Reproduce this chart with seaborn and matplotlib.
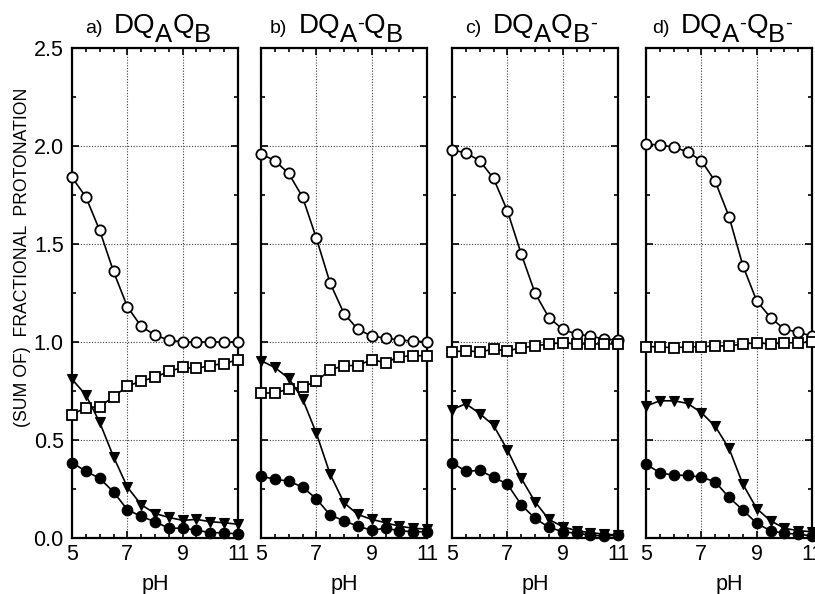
import matplotlib
matplotlib.use("Agg")
import matplotlib.pyplot as plt
import seaborn as sns
from matplotlib.ticker import FixedLocator, MultipleLocator

# pH grid (0.5 steps)
ph = [5, 5.5, 6, 6.5, 7, 7.5, 8, 8.5, 9, 9.5, 10, 10.5, 11]

# a) DQAQB
a_open = [1.84, 1.74, 1.57, 1.36, 1.18, 1.08, 1.035, 1.01, 1.0, 1.0, 1.0, 1.0, 1.0]
a_square = [0.63, 0.665, 0.67, 0.72, 0.775, 0.80, 0.82, 0.85, 0.87, 0.865, 0.88, 0.89, 0.91]
a_tri = [0.81, 0.73, 0.59, 0.415, 0.26, 0.17, 0.125, 0.105, 0.09, 0.095, 0.083, 0.078, 0.07]
a_filled = [0.385, 0.34, 0.305, 0.235, 0.145, 0.11, 0.083, 0.05, 0.05, 0.04, 0.027, 0.027, 0.02]

# b) DQA-QB
b_open = [1.96, 1.925, 1.86, 1.74, 1.53, 1.30, 1.145, 1.065, 1.03, 1.02, 1.01, 1.005, 1.0]
b_square = [0.74, 0.74, 0.76, 0.77, 0.80, 0.857, 0.88, 0.88, 0.91, 0.895, 0.925, 0.93, 0.93]
b_tri = [0.905, 0.87, 0.815, 0.71, 0.535, 0.325, 0.18, 0.12, 0.095, 0.078, 0.06, 0.05, 0.045]
b_filled = [0.315, 0.30, 0.29, 0.26, 0.20, 0.117, 0.088, 0.06, 0.04, 0.05, 0.037, 0.032, 0.032]

# c) DQAQB-
c_open = [1.98, 1.965, 1.925, 1.835, 1.67, 1.45, 1.25, 1.125, 1.065, 1.04, 1.03, 1.015, 1.01]
c_square = [0.95, 0.955, 0.95, 0.963, 0.955, 0.97, 0.98, 0.99, 0.996, 0.99, 0.99, 0.99, 0.99]
c_tri = [0.655, 0.685, 0.635, 0.575, 0.45, 0.305, 0.185, 0.095, 0.058, 0.037, 0.027, 0.02, 0.015]
c_filled = [0.385, 0.34, 0.345, 0.31, 0.275, 0.17, 0.10, 0.055, 0.032, 0.024, 0.015, 0.01, 0.015]

# d) DQA-QB-
d_open = [2.01, 2.005, 1.995, 1.97, 1.925, 1.82, 1.64, 1.39, 1.21, 1.125, 1.065, 1.05, 1.03]
d_square = [0.976, 0.976, 0.97, 0.976, 0.976, 0.98, 0.98, 0.99, 0.996, 0.99, 0.996, 0.996, 1.0]
d_tri = [0.673, 0.70, 0.70, 0.687, 0.64, 0.57, 0.457, 0.275, 0.15, 0.088, 0.05, 0.037, 0.032]
d_filled = [0.377, 0.333, 0.32, 0.32, 0.31, 0.287, 0.207, 0.143, 0.075, 0.037, 0.024, 0.02, 0.01]

x_ticks = [5, 7, 9, 11]
y_ticks = [0, 0.5, 1.0, 1.5, 2.0, 2.5]
y_ticklabels = ["0.0", "0.5", "1.0", "1.5", "2.0", "2.5"]

panel_labels = ["a)", "b)", "c)", "d)"]
panel_titles = [
    [("DQ", 0), ("A", -6.5), ("Q", 0), ("B", -6.5)],
    [("DQ", 0), ("A", -6.5), ("-", 3), ("Q", 0), ("B", -6.5)],
    [("DQ", 0), ("A", -6.5), ("Q", 0), ("B", -6.5), ("-", 3)],
    [("DQ", 0), ("A", -6.5), ("-", 3), ("Q", 0), ("B", -6.5), ("-", 3)],
]
panel_data = [
    (a_open, a_square, a_tri, a_filled),
    (b_open, b_square, b_tri, b_filled),
    (c_open, c_square, c_tri, c_filled),
    (d_open, d_square, d_tri, d_filled),
]

sns.set_style("ticks")
plt.rcParams['font.family'] = ['Liberation Sans', 'DejaVu Sans']
plt.rcParams['text.color'] = 'black'
plt.rcParams['axes.labelcolor'] = 'black'
plt.rcParams['xtick.color'] = 'black'
plt.rcParams['ytick.color'] = 'black'

fig = plt.figure(figsize=(8.15, 5.94), dpi=100)
W, H = 815, 594
lefts = [72, 261, 452, 646]
label_x = [0.078, 0.054, 0.078, 0.036]
ax_w, top, bottom = 166, 48, 538

base_y = 1 + (top - 33) / (bottom - top)

for i, (open_c, square, tri, filled) in enumerate(panel_data):
    ax = fig.add_axes([lefts[i] / W, (H - bottom) / H, ax_w / W, (bottom - top) / H])
    ax.set_axisbelow(True)

    style = dict(ax=ax, color="black", linewidth=1.2, clip_on=False, zorder=3)
    sns.lineplot(x=ph, y=open_c, marker="o", markersize=7.4, markerfacecolor="white",
                 markeredgecolor="black", markeredgewidth=1.3, **style)
    sns.lineplot(x=ph, y=square, marker="s", markersize=7.4, markerfacecolor="white",
                 markeredgecolor="black", markeredgewidth=1.3, **style)
    sns.lineplot(x=ph, y=tri, marker="v", markersize=7.8, markerfacecolor="black",
                 markeredgecolor="black", markeredgewidth=0.8, **style)
    sns.lineplot(x=ph, y=filled, marker="o", markersize=7.6, markerfacecolor="black",
                 markeredgecolor="black", markeredgewidth=0.8, **style)

    ax.set_xlim(5, 11)
    ax.set_ylim(0, 2.5)
    ax.xaxis.set_major_locator(FixedLocator(x_ticks))
    ax.xaxis.set_minor_locator(MultipleLocator(0.5))
    ax.yaxis.set_major_locator(FixedLocator(y_ticks))
    ax.yaxis.set_minor_locator(MultipleLocator(0.25))
    ax.grid(True, which="major", color="0.25", linestyle=(0, (1, 1.5)), linewidth=0.8)
    ax.tick_params(which="both", direction="in", top=True, right=True, width=1.2,
                   labelsize=15.5, color="black", labelcolor="black")
    ax.tick_params(which="major", length=5, pad=4)
    ax.tick_params(which="minor", length=3)
    ax.tick_params(axis="y", pad=6)
    for s in ax.spines.values():
        s.set_linewidth(1.6)
        s.set_color("black")
    ax.set_xlabel("pH", fontsize=15.5, labelpad=7)
    ax.set_ylabel("")
    if i > 0:
        ax.set_yticklabels([])
    else:
        ax.set_yticklabels(y_ticklabels)

    # panel title built from pieces so the subscripts stay large
    prev = ax.text(label_x[i], base_y, panel_labels[i], transform=ax.transAxes,
                   fontsize=14, va="baseline", ha="left")
    gap = 8
    for s, dy in panel_titles[i]:
        size = 20 if s in ("DQ", "Q") else (18.5 if s in ("A", "B") else 15)
        prev = ax.annotate(s, xy=(1, base_y), xycoords=(prev, ax.transAxes),
                           xytext=(gap, dy), textcoords="offset points",
                           fontsize=size, va="baseline", ha="left")
        gap = 0

fig.text(0.027, 0.566, "(SUM OF)  FRACTIONAL  PROTONATION", rotation=90,
         fontsize=12.7, ha="center", va="center")

fig.savefig("out.png", dpi=100)
